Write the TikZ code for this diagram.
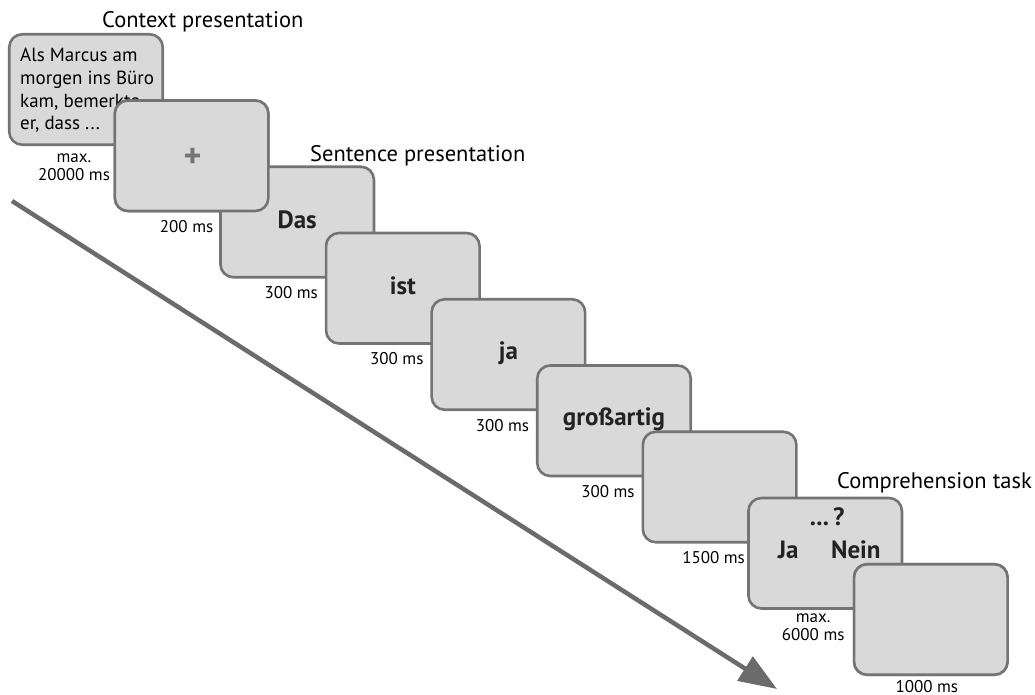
\documentclass[tikz,border=0pt]{standalone}
\usepackage{fontspec}
\setmainfont{PT Sans}
\usetikzlibrary{arrows.meta,calc}
\definecolor{boxfill}{HTML}{D9D9D9}
\definecolor{boxline}{HTML}{747474}
\definecolor{arrowc}{HTML}{6B6B6B}
\definecolor{wordc}{HTML}{222222}
\begin{document}
\begin{tikzpicture}[x=1pt,y=-1pt,
  screen/.style={draw=boxline, fill=boxfill, line width=2.6pt, rounded corners=13pt,
    minimum width=153.5pt, minimum height=110.5pt, inner sep=0pt},
  dur/.style={font=\fontsize{17}{18}\selectfont, align=center, anchor=base, inner sep=0pt},
  title/.style={font=\fontsize{22.5}{26}\selectfont, anchor=base west, inner sep=0pt},
  word/.style={font=\fontsize{25}{28}\selectfont\bfseries, text=wordc, anchor=base, inner sep=0pt},
  timeline/.style={draw=arrowc, line width=4.5pt, -{Triangle[length=38pt,width=28pt]}}]
\useasboundingbox (0,0) rectangle (1035,695);
% time arrow
\coordinate (ts) at (12,201);
\coordinate (te) at (777,689);
\draw[timeline] (ts) -- (te);
% screens
\foreach \i in {0,...,8}{
  \node[screen] (b\i) at ({86+105.6*\i},{89.5+66.25*\i}) {};
}
% titles
\node[title] (t1) at (102,28) {Context presentation};
\node[title] (t2) at (310,162) {Sentence presentation};
\node[title] (t3) at (837,488) {Comprehension task};
% context text (anchor base = last line)
\node[font=\fontsize{19}{22.7}\selectfont, align=left, anchor=base west, inner sep=0pt] (ctx) at (20,130)
  {Als Marcus am\\morgen ins Büro\\kam, bemerkte\\er, dass ...};
% redraw box 1 over the context text
\node[screen] at (b1) {};
% words
\node[font=\fontsize{34}{34}\selectfont\bfseries, text=boxline, inner sep=0pt] (plus) at ($(b1)+(1,2)$) {+};
\node[word] (w2) at ($(b2)+(0,6)$) {Das};
\node[word] (w3) at ($(b3)+(0,6)$) {ist};
\node[word] (w4) at ($(b4)+(0,5)$) {ja};
\node[word] (w5) at ($(b5)+(0,5)$) {großartig};
\node[word] (q) at ($(b7)+(2,-28)$) {...\,?};
\node[word] (jn) at ($(b7)+(4,5)$) {Ja\hspace{1.3em}Nein};
% redraw box 9 over comprehension text
\node[screen] at (b8) {};
% durations (anchor base = last line)
\node[dur] (d0) at ($(b0.south)+(-12,34)$) {max.\\20000 ms};
\node[dur] (d1) at ($(b1.south)+(-5,20)$) {200 ms};
\node[dur] (d2) at ($(b2.south)+(-6,20)$) {300 ms};
\node[dur] (d3) at ($(b3.south)+(-6,20)$) {300 ms};
\node[dur] (d4) at ($(b4.south)+(-6,20)$) {300 ms};
\node[dur] (d5) at ($(b5.south)+(-6,20)$) {300 ms};
\node[dur] (d6) at ($(b6.south)+(-6,20)$) {1500 ms};
\node[dur] (d7) at ($(b7.south)+(-12,31)$) {max.\\6000 ms};
\node[dur] (d8) at ($(b8.south)+(-4,16)$) {1000 ms};
\end{tikzpicture}
\end{document}
